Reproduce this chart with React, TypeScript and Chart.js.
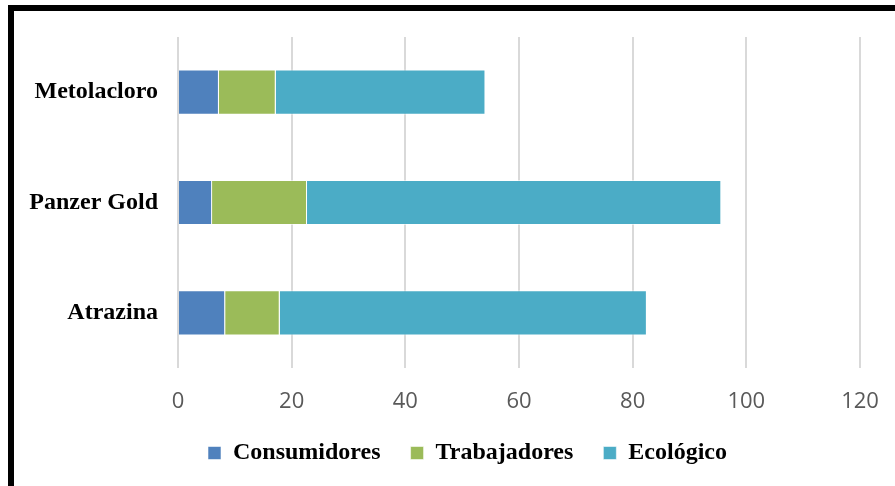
import React, { useEffect, useRef } from "react";
import { Chart, registerables } from "chart.js";

Chart.register(...registerables);

const categories = ["Metolacloro", "Panzer Gold", "Atrazina"];
const consumidores = [7.2, 6.0, 8.3];
const trabajadores = [10.0, 16.7, 9.6];
const ecologico = [36.9, 72.9, 64.6];
const xTicks = [0, 20, 40, 60, 80, 100, 120];

const legendShift = {
  id: "legendShift",
  afterLayout(chart: any) {
    const lg = chart.legend;
    if (lg) {
      lg.left = 75;
      lg.right = 860;
      lg.width = lg.right - lg.left;
    }
  },
};

export default function App() {
  const ref = useRef<HTMLCanvasElement | null>(null);

  useEffect(() => {
    if (!ref.current) return;
    const chart = new Chart(ref.current, {
      type: "bar",
      data: {
        labels: categories,
        datasets: [
          { label: "Consumidores", data: consumidores, backgroundColor: "#4F81BD", borderColor: "rgba(255,255,255,0.55)", borderWidth: 1 },
          { label: "Trabajadores", data: trabajadores, backgroundColor: "#9BBB59", borderColor: "rgba(255,255,255,0.55)", borderWidth: 1 },
          { label: "Ecológico", data: ecologico, backgroundColor: "#4BACC6", borderColor: "rgba(255,255,255,0.55)", borderWidth: 1 },
        ],
      },
      options: {
        indexAxis: "y",
        responsive: false,
        animation: false,
        layout: { padding: { left: 0, right: 35, top: 37, bottom: 11 } },
        datasets: { bar: { barPercentage: 0.41, categoryPercentage: 1 } },
        scales: {
          x: {
            stacked: true,
            min: 0,
            max: 120,
            afterBuildTicks: (s: any) => {
              s.ticks = xTicks.map((v) => ({ value: v }));
            },
            afterFit: (s: any) => {
              s.height = 43;
              s.paddingLeft = 0;
              s.paddingRight = 20;
            },
            grid: { color: "#d9d9d9", lineWidth: 2, drawTicks: false },
            border: { display: false },
            ticks: {
              color: "#595959",
              padding: 21,
              font: { family: "'Liberation Sans Narrow', 'Open Sans', sans-serif", size: 22 },
            },
          },
          y: {
            stacked: true,
            afterFit: (s: any) => {
              s.width = 178;
            },
            grid: { display: false, drawTicks: false },
            border: { display: false },
            ticks: {
              color: "#000000",
              padding: 20,
              font: { family: "'Liberation Serif', 'Times New Roman', serif", size: 24, weight: "bold" },
            },
          },
        },
        plugins: {
          legend: {
            position: "bottom",
            labels: {
              boxWidth: 13,
              boxHeight: 13,
              padding: 30,
              color: "#000000",
              font: { family: "'Liberation Serif', 'Times New Roman', serif", size: 24, weight: "bold" },
            },
          },
          tooltip: { enabled: false },
        },
      },
      plugins: [legendShift],
    });
    return () => chart.destroy();
  }, []);

  return (
    <div style={{ position: "absolute", left: 0, top: 0, width: 895, height: 486, overflow: "hidden", background: "#fff" }}>
      <div
        style={{
          position: "absolute",
          left: 8,
          top: 5,
          width: 900,
          height: 500,
          borderLeft: "6px solid #000",
          borderTop: "6px solid #000",
        }}
      />
      <canvas ref={ref} width={895} height={486} style={{ position: "absolute", left: 0, top: 0 }} />
    </div>
  );
}
